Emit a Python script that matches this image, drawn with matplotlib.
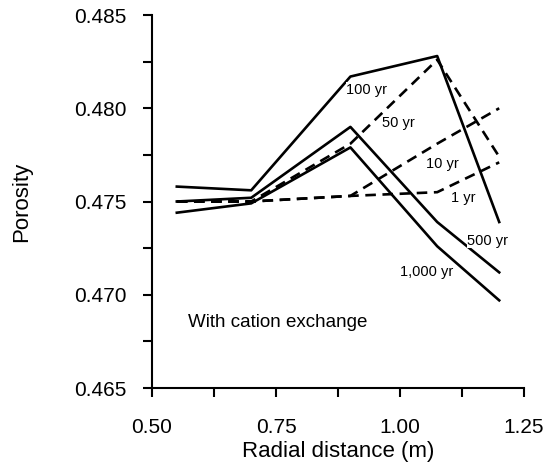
import matplotlib.pyplot as plt
from matplotlib.ticker import MultipleLocator

plt.rcParams['font.family'] = ['Liberation Sans', 'DejaVu Sans']

# radial distance of the nodes (m)
radius = [0.55, 0.70, 0.90, 1.075, 1.20]

# porosity per time step
yr1 = [0.4750, 0.4750, 0.4753, 0.4755, 0.4771]
yr10 = [0.4750, 0.4750, 0.4753, 0.4781, 0.4800]
yr50 = [0.4750, 0.4750, 0.4781, 0.4826, 0.4774]
yr100 = [0.4758, 0.4756, 0.4817, 0.4828, 0.4739]
yr500 = [0.4750, 0.4752, 0.4790, 0.4739, 0.4712]
yr1000 = [0.4744, 0.4749, 0.4779, 0.4726, 0.4697]

labels = ['1 yr', '10 yr', '50 yr', '100 yr', '500 yr', '1,000 yr']
label_x = [1.127, 1.085, 0.996, 0.933, 1.177, 1.054]
label_y = [0.4752, 0.4770, 0.4792, 0.4810, 0.4729, 0.4712]

fig = plt.figure(figsize=(5.48, 4.69), dpi=100)
ax = fig.add_axes([0.2774, 0.1727, 0.6788, 0.7953])

lw = 1.9
for s in [yr1, yr10, yr50]:
    ax.plot(radius, s, color='black', lw=lw, ls=(0, (4, 2.5)))
for s in [yr100, yr500, yr1000]:
    ax.plot(radius, s, color='black', lw=lw)

for t, x, y in zip(labels, label_x, label_y):
    ax.text(x, y, t, fontsize=10.5, ha='center', va='center',
            bbox=dict(facecolor='white', edgecolor='none', pad=0.3))

ax.text(0.573, 0.4685, 'With cation exchange', fontsize=13.5, va='center')

ax.set_xlim(0.5, 1.25)
ax.set_ylim(0.465, 0.485)
ax.xaxis.set_major_locator(MultipleLocator(0.25))
ax.xaxis.set_minor_locator(MultipleLocator(0.125))
ax.yaxis.set_major_locator(MultipleLocator(0.005))
ax.yaxis.set_minor_locator(MultipleLocator(0.0025))
ax.xaxis.set_major_formatter(plt.FormatStrFormatter('%.2f'))
ax.yaxis.set_major_formatter(plt.FormatStrFormatter('%.3f'))

for side in ['top', 'right']:
    ax.spines[side].set_visible(False)
for side in ['left', 'bottom']:
    ax.spines[side].set_linewidth(1.5)

ax.tick_params(which='both', direction='out', width=1.5, length=6.5, labelsize=15)
ax.tick_params(axis='x', which='major', pad=15)
ax.tick_params(axis='y', which='major', pad=12)

ax.set_xlabel('Radial distance (m)', fontsize=16, labelpad=3)
ax.set_ylabel('Porosity', fontsize=16, labelpad=30)

fig.savefig('out.png', dpi=100)
